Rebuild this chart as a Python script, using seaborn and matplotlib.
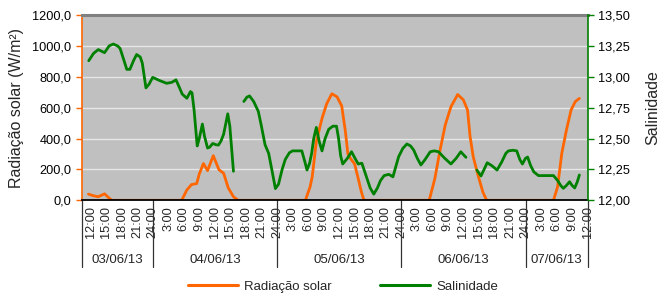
import matplotlib
matplotlib.use("Agg")
import matplotlib.pyplot as plt
import matplotlib.ticker as mticker
import matplotlib.transforms as mtransforms
from matplotlib.lines import Line2D
import numpy as np
import seaborn as sns

# ===================== dados =====================
# horas contadas a partir de 03/06/13 12:00
rad_horas = [-0.4, 0.5, 1.5, 2.7, 3.4, 4.1,
             17.6, 18.6, 19.5, 20.5, 21.0, 21.8, 22.6, 23.7, 24.8, 25.7, 26.6, 27.6, 28.5,
             41.5, 42.4, 42.8, 43.6, 44.7, 45.6, 46.6, 47.6, 48.5, 49.2, 49.7, 50.2, 51.0, 51.7, 52.3, 52.8,
             65.4, 66.5, 67.5, 68.5, 69.6, 70.9, 72.0, 72.8, 73.3, 73.9, 74.9, 75.8, 76.5,
             89.4, 90.2, 91.0, 91.9, 92.8, 93.6, 94.4]
rad_valores = [40, 30, 23, 42, 20, 0,
               0, 67, 102, 108, 170, 238, 192, 289, 198, 175, 80, 23, 0,
               0, 88, 150, 380, 530, 625, 690, 670, 612, 450, 300, 270, 235, 140, 55, 0,
               0, 142, 326, 488, 606, 685, 650, 585, 412, 282, 153, 50, 0,
               0, 88, 304, 455, 585, 639, 660]

# salinidade em três trechos (há falhas na série)
sal_horas_1 = [-0.35, 0.6, 1.5, 2.7, 3.6, 4.4, 5.2, 5.7, 6.4, 7.0, 7.6, 8.3, 8.9, 9.6, 10.0, 10.7,
               11.3, 12.0, 13.3, 14.7, 15.7, 16.5, 17.3, 17.7, 18.6, 19.3, 19.6, 20.0, 20.6, 21.0,
               21.6, 22.0, 22.6, 23.0, 23.6, 24.2, 24.7, 25.2, 25.7, 26.5, 26.9, 27.6]
sal_valores_1 = [13.13, 13.19, 13.22, 13.195, 13.25, 13.265, 13.25, 13.23, 13.14, 13.06, 13.06, 13.13,
                 13.18, 13.16, 13.11, 12.91, 12.94, 12.995, 12.97, 12.947, 12.955, 12.975, 12.90, 12.86,
                 12.826, 12.88, 12.87, 12.73, 12.44, 12.50, 12.617, 12.52, 12.423, 12.43, 12.46, 12.45,
                 12.447, 12.48, 12.535, 12.70, 12.60, 12.235]

sal_horas_2 = [29.6, 30.2, 30.7, 31.5, 32.4, 33.0, 33.7, 34.4, 35.0, 35.7, 36.3, 37.0, 37.6, 38.4,
               39.0, 40.2, 40.8, 41.4, 41.8, 42.3, 42.7, 43.1, 43.6, 44.2, 44.7, 45.3, 46.0, 46.8,
               47.5, 47.9, 48.3, 48.7, 49.6, 50.4, 51.2, 51.7, 52.4, 53.2, 54.0, 54.7, 55.4, 56.0,
               56.7, 57.6, 58.4, 59.0, 59.5, 60.3, 61.1, 61.8, 62.4, 63.1, 63.8, 64.6, 65.6, 66.4,
               67.2, 68.4, 69.6, 70.6, 71.5, 72.0, 72.5]
sal_valores_2 = [12.80, 12.835, 12.845, 12.80, 12.72, 12.60, 12.45, 12.38, 12.25, 12.095, 12.13, 12.25,
                 12.33, 12.385, 12.40, 12.40, 12.40, 12.31, 12.245, 12.30, 12.38, 12.50, 12.59, 12.47,
                 12.40, 12.50, 12.575, 12.60, 12.60, 12.50, 12.36, 12.294, 12.34, 12.393, 12.33, 12.294,
                 12.30, 12.20, 12.10, 12.05, 12.10, 12.16, 12.20, 12.21, 12.19, 12.28, 12.353, 12.42,
                 12.456, 12.44, 12.407, 12.34, 12.286, 12.33, 12.393, 12.40, 12.393, 12.34, 12.294,
                 12.34, 12.393, 12.37, 12.348]

sal_horas_3 = [74.6, 75.4, 76.0, 76.6, 77.5, 78.5, 79.4, 80.2, 80.7, 81.6, 82.3, 82.9, 83.4, 84.0,
               84.4, 85.0, 85.6, 86.5, 87.9, 89.4, 90.2, 90.8, 91.3, 91.9, 92.5, 93.0, 93.5, 94.0, 94.4]
sal_valores_3 = [12.245, 12.197, 12.25, 12.304, 12.28, 12.245, 12.31, 12.38, 12.40, 12.405, 12.40,
                 12.33, 12.294, 12.34, 12.35, 12.28, 12.23, 12.20, 12.20, 12.20, 12.16, 12.12, 12.097,
                 12.12, 12.15, 12.12, 12.10, 12.15, 12.205]

tick_horas = list(range(0, 97, 3))
tick_rotulos = ["12:00", "15:00", "18:00", "21:00", "24:00",
                "3:00", "6:00", "9:00", "12:00", "15:00", "18:00", "21:00", "24:00",
                "3:00", "6:00", "9:00", "12:00", "15:00", "18:00", "21:00", "24:00",
                "3:00", "6:00", "9:00", "12:00", "15:00", "18:00", "21:00", "24:00",
                "3:00", "6:00", "9:00", "12:00"]
datas = ["03/06/13", "04/06/13", "05/06/13", "06/06/13", "07/06/13"]
limites_datas = [-1.7, 12, 36, 60, 84, 96]

LARANJA = "#FF6600"
VERDE = "#008000"

# ===================== figura =====================
sns.set_style("white")
plt.rcParams['font.family'] = ['Liberation Sans', 'DejaVu Sans']

fig = plt.figure(figsize=(6.71, 2.93), dpi=100)
ax = fig.add_axes([0.1218, 0.3164, 0.7540, 0.6324])
ax.set_facecolor("#C0C0C0")

sns.lineplot(x=rad_horas, y=rad_valores, ax=ax, color=LARANJA, linewidth=2.0)

ax2 = ax.twinx()
for hs, vs in [(sal_horas_1, sal_valores_1), (sal_horas_2, sal_valores_2), (sal_horas_3, sal_valores_3)]:
    sns.lineplot(x=hs, y=vs, ax=ax2, color=VERDE, linewidth=2.0)

ax.set_xlim(-1.7, 96)
ax.set_ylim(0, 1200)
ax2.set_ylim(12, 13.5)

ax.set_yticks(np.arange(0, 1201, 200))
ax.yaxis.set_major_formatter(mticker.FuncFormatter(lambda v, p: f"{v:.1f}".replace(".", ",")))
ax2.set_yticks(np.arange(12, 13.51, 0.25))
ax2.yaxis.set_major_formatter(mticker.FuncFormatter(lambda v, p: f"{v:.2f}".replace(".", ",")))

ax.yaxis.grid(True, color="#E6E6E6", linewidth=1.0)
ax.set_axisbelow(True)

ax.set_xticks(tick_horas)
ax.set_xticklabels(tick_rotulos, rotation=90, fontsize=9.2)
ax.tick_params(axis='x', length=0, pad=4)
ax.tick_params(axis='y', color=LARANJA, labelcolor='black', length=4, width=1,
               direction='out', labelsize=9.2, left=True)
ax2.tick_params(axis='y', color=VERDE, labelcolor='black', length=4, width=1,
                direction='out', labelsize=9.2, right=True)

# bordas
ax.spines['left'].set_color(LARANJA)
ax.spines['left'].set_linewidth(1.2)
ax.spines['top'].set_color("#808080")
ax.spines['top'].set_linewidth(2.2)
ax.spines['bottom'].set_color("black")
ax.spines['bottom'].set_linewidth(1.3)
ax.spines['right'].set_visible(False)
for s in ['left', 'top', 'bottom']:
    ax2.spines[s].set_visible(False)
ax2.spines['right'].set_color(VERDE)
ax2.spines['right'].set_linewidth(1.2)

# rótulos dos eixos
ax.set_ylabel("Radiação solar (W/m²)", fontsize=11.5)
ax.yaxis.set_label_coords(-0.115, 0.5)
ax2.set_ylabel("Salinidade", fontsize=11.5)
ax2.yaxis.set_label_coords(1.113, 0.5)

# separadores dos dias e datas
trans = mtransforms.blended_transform_factory(ax.transData, ax.transAxes)
for xb in limites_datas:
    ax.plot([xb, xb], [0, -0.36], transform=trans, color="#333333", linewidth=0.9, clip_on=False)
for i, d in enumerate(datas):
    centro = (limites_datas[i] + limites_datas[i + 1]) / 2
    ax.text(centro, -0.322, d, transform=trans, ha='center', va='center', fontsize=9.5)

# legenda
handles = [Line2D([], [], color=LARANJA, linewidth=2.2, label="Radiação solar"),
           Line2D([], [], color=VERDE, linewidth=2.2, label="Salinidade")]
fig.legend(handles=handles, loc='center', bbox_to_anchor=(0.511, 0.022), ncol=2, frameon=False,
           fontsize=9.5, handlelength=3.8, handletextpad=0.5, columnspacing=3.6)

fig.savefig("out.png", dpi=100)
plt.close(fig)
